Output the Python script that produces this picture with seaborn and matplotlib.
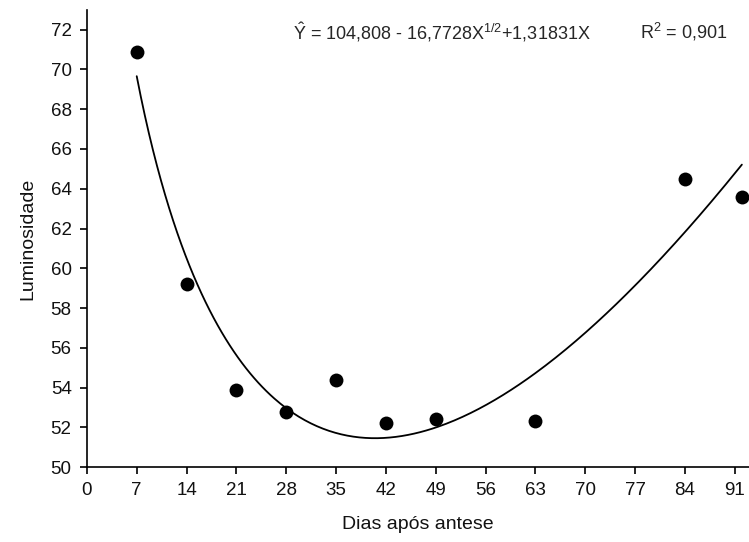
import numpy as np
import pandas as pd
import matplotlib
matplotlib.use("Agg")
import matplotlib.pyplot as plt
import seaborn as sns

# Data
dias = [7, 14, 21, 28, 35, 42, 49, 63, 84, 92]
luminosidade = [70.9, 59.2, 53.9, 52.8, 54.4, 52.2, 52.4, 52.3, 64.5, 63.6]

# Fitted model coefficients (from the equation shown)
b0, b1, b2 = 104.808, -16.7728, 1.31831
r2_text = "0,901"

xticks = [0, 7, 14, 21, 28, 35, 42, 49, 56, 63, 70, 77, 84, 91]
yticks = [50, 52, 54, 56, 58, 60, 62, 64, 66, 68, 70, 72]

sns.set_theme(style="ticks")
plt.rcParams['font.family'] = ['Liberation Sans', 'DejaVu Sans']
plt.rcParams['mathtext.fontset'] = 'custom'
plt.rcParams['mathtext.rm'] = 'Liberation Sans'
plt.rcParams['mathtext.it'] = 'Liberation Sans:italic'

fig = plt.figure(figsize=(7.49, 5.42), dpi=100)
ax = fig.add_axes([0.116, 0.138, 0.884, 0.844])

df = pd.DataFrame({"x": dias, "y": luminosidade})
xc = np.linspace(min(dias), max(dias), 300)
curve = pd.DataFrame({"x": xc, "y": b0 + b1 * np.sqrt(xc) + b2 * xc})

sns.lineplot(data=curve, x="x", y="y", ax=ax, color="black", linewidth=1.3)
sns.scatterplot(data=df, x="x", y="y", ax=ax, color="black", s=100,
                edgecolor="black", linewidth=0, zorder=3)

ax.set_xlim(0, 93)
ax.set_ylim(50, 73)
ax.set_xticks(xticks)
ax.set_yticks(yticks)
ax.tick_params(axis='both', labelsize=13.5, direction='out', length=5,
               width=1.2, color='black', labelcolor='#111111', pad=6)
for s in ['top', 'right']:
    ax.spines[s].set_visible(False)
for s in ['left', 'bottom']:
    ax.spines[s].set_linewidth(1.2)
    ax.spines[s].set_color('black')

ax.set_xlabel("Dias após antese", fontsize=14, labelpad=12, color='#111111')
ax.set_ylabel("Luminosidade", fontsize=14, labelpad=10, color='#111111')

ax.text(0.311, 0.952, r"$\hat{\mathrm{Y}}$ = 104,808 - 16,7728X$^{1/2}$+1,31831X",
        transform=ax.transAxes, fontsize=13, va='center', ha='left')
ax.text(0.835, 0.952, r"R$^{2}$ = " + r2_text,
        transform=ax.transAxes, fontsize=13, va='center', ha='left')

fig.savefig("out.png", dpi=100)
